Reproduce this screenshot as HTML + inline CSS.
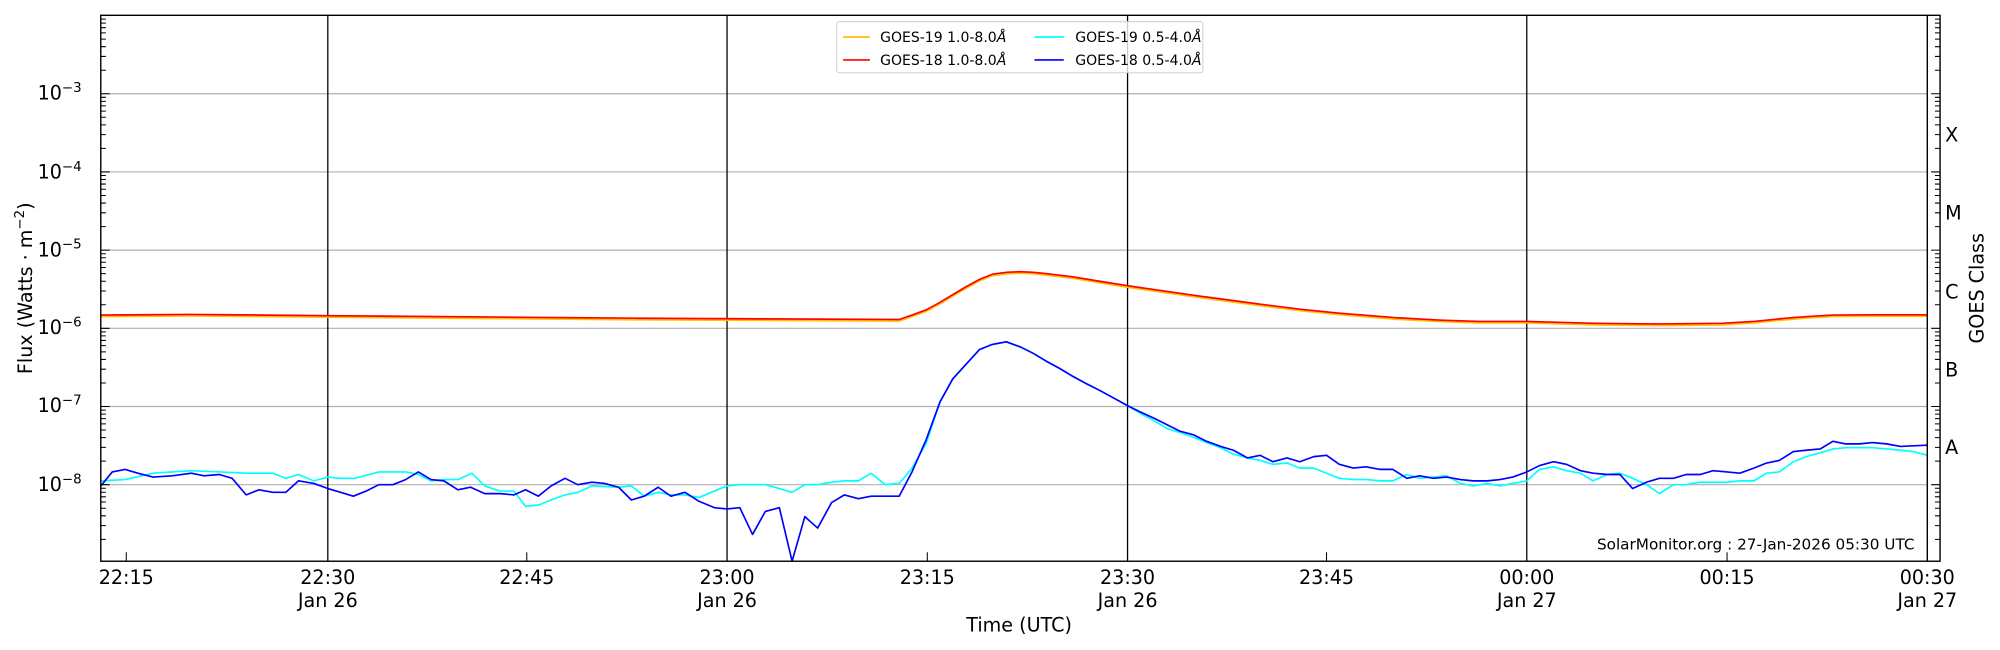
<!DOCTYPE html>
<html><head><meta charset="utf-8"><style>
html,body{margin:0;padding:0;background:#fff;}
svg{display:block;}
text{font-family:"DejaVu Sans","Liberation Sans",sans-serif;fill:#000;}
</style></head><body>
<svg width="2000" height="650" viewBox="0 0 1568 509.6" xmlns="http://www.w3.org/2000/svg" xmlns:xlink="http://www.w3.org/1999/xlink">
<rect x="0" y="0" width="1568" height="509.6" fill="#fff"/>
<g stroke="#b0b0b0" stroke-width="0.9">
<line x1="79" x2="1511" y1="73.5" y2="73.5"/><line x1="79" x2="1511" y1="134.8" y2="134.8"/><line x1="79" x2="1511" y1="196.1" y2="196.1"/><line x1="79" x2="1511" y1="257.4" y2="257.4"/><line x1="79" x2="1511" y1="318.7" y2="318.7"/><line x1="79" x2="1511" y1="380" y2="380"/>
</g>
<g stroke="#000" stroke-width="1">
<line x1="257" x2="257" y1="12" y2="440"/><line x1="570" x2="570" y1="12" y2="440"/><line x1="884" x2="884" y1="12" y2="440"/><line x1="1197" x2="1197" y1="12" y2="440"/>
</g>
<g fill="none" stroke-width="1.3" stroke-linejoin="round">
<polyline stroke="#ffc000" transform="translate(0,1.2)" points="79,247 150,246.5 257,247.5 380,248.5 500,249.5 600,250 705,250.5 715,247 726,243 737,237 747,231 757,225 768,219 778,215 789,213.5 800,213 810,213.5 820,214.5 841,217 862,220.5 884,224 915,228.5 936,231.5 962,235 988,238.5 1020,242.5 1050,245.5 1093,249 1130,251 1160,252 1197,252 1250,253.5 1302,254 1350,253.5 1375,252 1395,250 1406,249 1420,248 1437,247 1470,246.8 1511,246.8"/>
<polyline stroke="#ff0000" points="79,247 150,246.5 257,247.5 380,248.5 500,249.5 600,250 705,250.5 715,247 726,243 737,237 747,231 757,225 768,219 778,215 789,213.5 800,213 810,213.5 820,214.5 841,217 862,220.5 884,224 915,228.5 936,231.5 962,235 988,238.5 1020,242.5 1050,245.5 1093,249 1130,251 1160,252 1197,252 1250,253.5 1302,254 1350,253.5 1375,252 1395,250 1406,249 1420,248 1437,247 1470,246.8 1511,246.8"/>
<polyline stroke="#00ffff" points="79,377 98,376 120,371 135,370 150,369 172,370 193,371 214,371 224,375 234,372 246,377 257,374 267,375 278,375 297,370 318,370 328,372 338,377 348,376 359,376 370,371 380,381 392,385 403,385 412,397 422,396 432,392 443,388 453,386 464,381 485,382 495,381 505,389 516,386 526,388 537,388 548,390 560,385 570,381 580,380 600,380 611,383 621,386 631,380 641,380 652,378 662,377 673,377 683,371 694,380 705,379 715,367 726,348 737,315 747,297 757,286 768,274 778,270 789,268 800,272 810,277 820,283 831,289 841,295 852,301 862,306 873,312 884,318 894,324 905,330 915,336 925,339 936,343 946,347 957,351 967,356 978,359 988,361 998,364 1009,363 1019,367 1030,367 1040,371 1050,375 1061,376 1071,376 1082,377 1092,377 1103,372 1113,375 1124,374 1134,373 1145,379 1155,381 1166,379 1176,381 1186,379 1197,377 1207,368 1218,366 1228,369 1239,371 1249,377 1260,372 1270,371 1280,375 1291,380 1301,387 1312,380 1322,380 1333,378 1343,378 1354,378 1364,377 1375,377 1385,371 1395,370 1406,362 1416,358 1427,355 1437,352 1447,351 1458,351 1468,351 1479,352 1490,353 1500,354 1511,357"/>
<polyline stroke="#0000ff" points="79,381 88,370 98,368 108,371 120,374 135,373 150,371 160,373 172,372 182,375 193,388 203,384 214,386 224,386 234,377 246,379 257,383 267,386 277,389 287,385 297,380 308,380 318,376 328,370 338,376 348,377 359,384 369,382 380,387 392,387 403,388 412,384 422,389 432,381 443,375 453,380 464,378 474,379 485,382 495,392 505,389 516,382 526,389 537,386 548,393 560,398 570,399 580,398 590,419 600,401 611,398 621,440 631,405 641,414 652,394 662,388 673,391 683,389 694,389 705,389 715,370 726,345 737,315 747,297 757,286 768,274 778,270 789,268 800,272 810,277 820,283 831,289 841,295 852,301 862,306 873,312 884,318 894,323 905,328 915,333 925,338 936,341 946,346 957,350 967,353 978,359 988,357 998,362 1009,359 1019,362 1030,358 1040,357 1050,364 1061,367 1071,366 1082,368 1092,368 1103,375 1113,373 1124,375 1134,374 1145,376 1155,377 1166,377 1176,376 1186,374 1197,370 1207,365 1218,362 1228,364 1239,369 1249,371 1260,372 1270,372 1280,383 1291,378 1301,375 1312,375 1322,372 1333,372 1343,369 1354,370 1364,371 1375,367 1385,363 1395,361 1406,354 1416,353 1427,352 1437,346 1447,348 1458,348 1468,347 1479,348 1490,350 1511,349"/>
</g>
<rect x="79" y="12" width="1442" height="428" fill="none" stroke="#000" stroke-width="1.1"/>
<line x1="1511" x2="1511" y1="12" y2="440" stroke="#000" stroke-width="1.1"/>
<g id="tk" stroke="#000" stroke-width="0.8" fill="none">
<path d="M79 422.85h4M79 412.05h4M79 404.4h4M79 398.45h4M79 393.6h4M79 389.5h4M79 385.95h4M79 382.8h4
M79 380h7M79 361.55h4M79 350.75h4M79 343.1h4M79 337.15h4M79 332.3h4M79 328.2h4M79 324.65h4M79 321.5h4
M79 318.7h7M79 300.25h4M79 289.45h4M79 281.8h4M79 275.85h4M79 271h4M79 266.9h4M79 263.35h4M79 260.2h4
M79 257.4h7M79 238.95h4M79 228.15h4M79 220.5h4M79 214.55h4M79 209.7h4M79 205.6h4M79 202.05h4M79 198.9h4
M79 196.1h7M79 177.65h4M79 166.85h4M79 159.2h4M79 153.25h4M79 148.4h4M79 144.3h4M79 140.75h4M79 137.6h4
M79 134.8h7M79 116.35h4M79 105.55h4M79 97.9h4M79 91.95h4M79 87.1h4M79 83h4M79 79.45h4M79 76.3h4
M79 73.5h7M79 55.05h4M79 44.25h4M79 36.6h4M79 30.65h4M79 25.8h4M79 21.7h4M79 18.15h4M79 15h4"/>
</g>
<use xlink:href="#tk" href="#tk" transform="matrix(-1 0 0 1 1600 0)"/>
<g stroke="#000" stroke-width="0.8">
<line x1="99" x2="99" y1="440" y2="433"/><line x1="413" x2="413" y1="440" y2="433"/><line x1="727" x2="727" y1="440" y2="433"/><line x1="1040" x2="1040" y1="440" y2="433"/><line x1="1354" x2="1354" y1="440" y2="433"/>
</g>
<g font-size="15" text-anchor="end">
<text x="64" y="78">10<tspan dy="-6" font-size="10.5">−3</tspan></text>
<text x="64" y="140">10<tspan dy="-6" font-size="10.5">−4</tspan></text>
<text x="64" y="201">10<tspan dy="-6" font-size="10.5">−5</tspan></text>
<text x="64" y="262">10<tspan dy="-6" font-size="10.5">−6</tspan></text>
<text x="64" y="323">10<tspan dy="-6" font-size="10.5">−7</tspan></text>
<text x="64" y="385">10<tspan dy="-6" font-size="10.5">−8</tspan></text>
</g>
<g font-size="15" text-anchor="middle">
<text x="99" y="458">22:15</text>
<text x="257" y="458">22:30</text><text x="257" y="476">Jan 26</text>
<text x="413" y="458">22:45</text>
<text x="570" y="458">23:00</text><text x="570" y="476">Jan 26</text>
<text x="727" y="458">23:15</text>
<text x="884" y="458">23:30</text><text x="884" y="476">Jan 26</text>
<text x="1040" y="458">23:45</text>
<text x="1197" y="458">00:00</text><text x="1197" y="476">Jan 27</text>
<text x="1354" y="458">00:15</text>
<text x="1511" y="458">00:30</text><text x="1511" y="476">Jan 27</text>
<text x="799" y="495">Time (UTC)</text>
<text transform="translate(25,226) rotate(-90)">Flux (Watts · m<tspan dy="-6" font-size="10.5">−2</tspan><tspan dy="6">)</tspan></text>
<text transform="translate(1555,226) rotate(-90)">GOES Class</text>
</g>
<g font-size="15">
<text x="1525" y="111">X</text><text x="1525" y="172">M</text><text x="1525" y="234">C</text><text x="1525" y="295">B</text><text x="1525" y="356">A</text>
</g>
<text x="1501" y="431" font-size="12" text-anchor="end" textLength="249" lengthAdjust="spacingAndGlyphs">SolarMonitor.org : 27-Jan-2026 05:30 UTC</text>
<rect x="656" y="17" width="287" height="40" rx="2" fill="#fff" fill-opacity="0.8" stroke="#d0d0d0" stroke-width="0.8"/>
<g stroke-width="1.3">
<line x1="661" x2="682" y1="29" y2="29" stroke="#ffc000"/>
<line x1="661" x2="682" y1="47" y2="47" stroke="#ff0000"/>
<line x1="811" x2="834" y1="29" y2="29" stroke="#00ffff"/>
<line x1="811" x2="834" y1="47" y2="47" stroke="#0000ff"/>
</g>
<g font-size="11">
<text x="690" y="33">GOES-19 1.0-8.0<tspan font-style="italic">Å</tspan></text>
<text x="690" y="51">GOES-18 1.0-8.0<tspan font-style="italic">Å</tspan></text>
<text x="843" y="33">GOES-19 0.5-4.0<tspan font-style="italic">Å</tspan></text>
<text x="843" y="51">GOES-18 0.5-4.0<tspan font-style="italic">Å</tspan></text>
</g>
</svg>
</body></html>
